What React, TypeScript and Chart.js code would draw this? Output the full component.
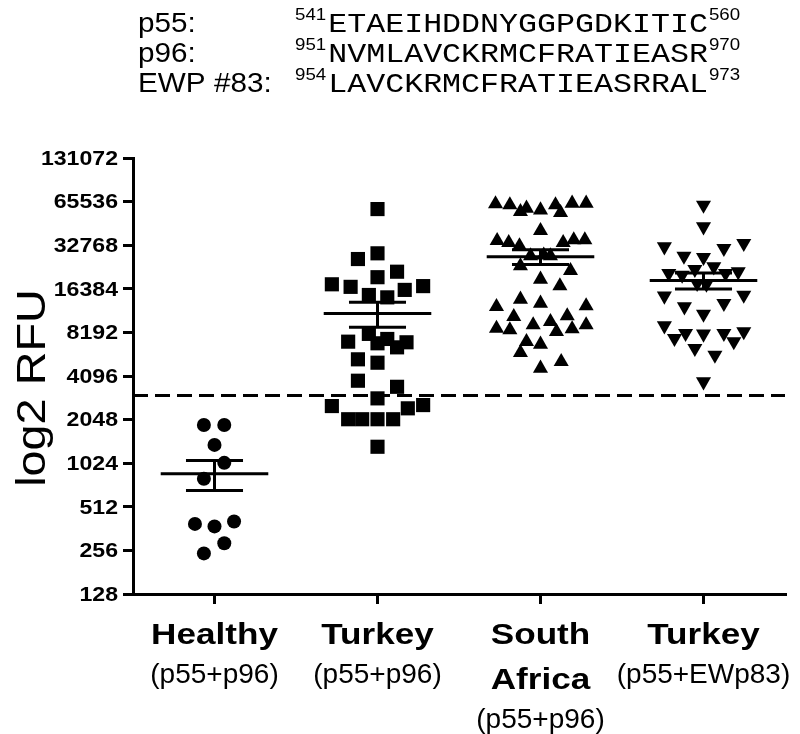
import React, { useEffect, useRef } from "react";
import { Chart, registerables } from "chart.js";

Chart.register(...registerables);

// ---------- data ----------
const categories: string[][] = [["Healthy"], ["Turkey"], ["South", "Africa"], ["Turkey"]];
const subLabels: string[] = ["(p55+p96)", "(p55+p96)", "(p55+p96)", "(p55+EWp83)"];
const yTicks: number[] = [128, 256, 512, 1024, 2048, 4096, 8192, 16384, 32768, 65536, 131072];
const cutoff = 3000;

const healthyValues: number[] = [1880, 1880, 1370, 1030, 800, 390, 375, 405, 287, 244];
const healthyJitter: number[] = [-0.065, 0.06, 0, 0.06, -0.065, -0.12, 0, 0.12, 0.06, -0.065];

const turkeyValues: number[] = [
  58200, 28800, 26300, 21500, 19700, 17600, 16900, 17100, 16100, 14850, 14300,
  8000, 7070, 7380, 6890, 7000, 6460, 5340, 5060, 3800, 3450, 2870,
  2540, 2580, 2450, 2060, 2060, 2060, 2060, 1330,
];
const turkeyJitter: number[] = [
  0, 0, -0.12, 0.12, 0, -0.28, -0.165, 0.28, 0.167, -0.053, 0.06,
  -0.053, -0.18, 0.06, 0, 0.178, 0.12, -0.12, 0, -0.12, 0.12, 0,
  -0.28, 0.28, 0.186, -0.18, -0.094, 0, 0.096, 0,
];

const southAfricaValues: number[] = [
  63100, 62100, 55800, 58900, 57300, 62100, 54900, 63800, 63800,
  41300, 35200, 34100, 32400, 34100, 35600, 35600,
  27600, 28000, 27600, 23550, 21850, 19060, 17130,
  13860, 13010, 12330, 12470, 10510, 10630, 9710,
  8740, 8510, 9220, 8290, 8650, 9220, 7070, 6780, 5930, 5140, 4630,
];
const southAfricaJitter: number[] = [
  -0.276, -0.188, -0.123, -0.086, 0, 0.092, 0.123, 0.194, 0.28,
  0, -0.266, -0.195, -0.129, 0.139, 0.204, 0.272,
  -0.061, 0.02, 0.061, -0.123, 0.184, 0, 0.119,
  -0.123, 0, -0.27, 0.28, -0.164, 0.164, 0.061,
  -0.27, -0.188, -0.045, 0.098, 0.194, 0.28, -0.086, 0, -0.123, 0.127, 0,
];

const turkeyEwpValues: number[] = [
  62100, 43970, 32000, 33800, 31200, 27600, 27000,
  20970, 20400, 22340, 23280, 20970, 21500, 17880, 17680,
  14620, 14850, 12330, 13010, 10970,
  9110, 7460, 8070, 7990, 8070, 8290, 7070, 6360, 5720, 3740,
];
const turkeyEwpJitter: number[] = [
  0, 0, -0.24, 0.247, 0.125, -0.12, 0,
  -0.213, -0.131, -0.053, 0.063, 0.135, 0.213, -0.039, 0.018,
  -0.24, 0.247, -0.117, 0.125, 0,
  -0.24, -0.178, -0.11, 0, 0.125, 0.247, 0.186, -0.053, 0.07, 0,
];

const peptideNames: string[] = ["p55:", "p96:", "EWP #83:"];
const peptideStarts: string[] = ["541", "951", "954"];
const peptideSequences: string[] = [
  "ETAEIHDDNYGGPGDKITIC",
  "NVMLAVCKRMCFRATIEASR",
  "LAVCKRMCFRATIEASRRAL",
];
const peptideEnds: string[] = ["560", "970", "973"];

// ---------- helpers ----------
function meanSem(vals: number[]): [number, number] {
  const n = vals.length;
  const m = vals.reduce((a, b) => a + b, 0) / n;
  const sd = Math.sqrt(vals.reduce((a, v) => a + (v - m) * (v - m), 0) / (n - 1));
  return [m, sd / Math.sqrt(n)];
}

function stretchText(
  ctx: CanvasRenderingContext2D,
  text: string,
  x: number,
  y: number,
  font: string,
  sx: number,
  align: "left" | "center" | "right"
): number {
  ctx.save();
  ctx.font = font;
  const w = ctx.measureText(text).width * sx;
  let left = x;
  if (align === "center") left = x - w / 2;
  else if (align === "right") left = x - w;
  ctx.translate(left, y);
  ctx.scale(sx, 1);
  ctx.textAlign = "left";
  ctx.fillText(text, 0, 0);
  ctx.restore();
  return w;
}

const SANS = "'Liberation Sans', Arial, Helvetica, sans-serif";
const MONO = "'Liberation Mono', 'Courier New', monospace";

const textPlugin = {
  id: "figureText",
  afterDraw(chart: any) {
    const ctx: CanvasRenderingContext2D = chart.ctx;
    const xs = chart.scales.x;
    const ys = chart.scales.y;
    const area = chart.chartArea;
    ctx.save();
    ctx.fillStyle = "#000";

    // y tick labels
    ctx.textBaseline = "middle";
    ys.ticks.forEach((t: any) => {
      const py = ys.getPixelForValue(t.value);
      stretchText(ctx, String(t.value), area.left - 15, py + 1, `bold 21px ${SANS}`, 1.1, "right");
    });

    // y axis title
    ctx.save();
    ctx.translate(34, (area.top + area.bottom) / 2 + 12);
    ctx.rotate(-Math.PI / 2);
    ctx.textBaseline = "middle";
    stretchText(ctx, "log2 RFU", 0, 0, `40px ${SANS}`, 1.17, "center");
    ctx.restore();

    // x category labels
    ctx.textBaseline = "alphabetic";
    categories.forEach((lines, i) => {
      const px = xs.getPixelForValue(i);
      lines.forEach((ln, k) => {
        stretchText(ctx, ln, px, 644 + k * 45, `bold 30px ${SANS}`, 1.17, "center");
      });
      stretchText(ctx, subLabels[i], px, 644 + (lines.length - 1) * 45 + 39, `28px ${SANS}`, 1.0, "center");
    });

    // peptide header
    const baselines = [32, 62, 92];
    peptideNames.forEach((nm, r) => {
      const b = baselines[r];
      stretchText(ctx, nm, 138, b, `27px ${SANS}`, 1.1, "left");
      const sw = stretchText(ctx, peptideStarts[r], 295, b - 12, `17px ${SANS}`, 1.1, "left");
      const qw = stretchText(ctx, peptideSequences[r], 295 + sw + 2, b, `28px ${MONO}`, 1.13, "left");
      stretchText(ctx, peptideEnds[r], 295 + sw + 2 + qw + 1, b - 12, `17px ${SANS}`, 1.1, "left");
    });

    ctx.restore();
  },
};

const groups = [
  { values: healthyValues, jitter: healthyJitter, style: "circle", radius: 7, rotation: 0 },
  { values: turkeyValues, jitter: turkeyJitter, style: "rect", radius: 10, rotation: 0 },
  { values: southAfricaValues, jitter: southAfricaJitter, style: "triangle", radius: 8.7, rotation: 0 },
  { values: turkeyEwpValues, jitter: turkeyEwpJitter, style: "triangle", radius: 8.7, rotation: 180 },
];

export default function App() {
  const canvasRef = useRef<HTMLCanvasElement | null>(null);

  useEffect(() => {
    if (!canvasRef.current) return;

    const datasets: any[] = [];
    groups.forEach((g, i) => {
      datasets.push({
        type: "scatter",
        data: g.values.map((v, j) => ({ x: i + g.jitter[j], y: v })),
        pointStyle: g.style,
        pointRadius: g.radius,
        pointRotation: g.rotation,
        pointBackgroundColor: "#000",
        pointBorderColor: "#000",
        pointBorderWidth: 0,
        order: 2,
      });
    });
    groups.forEach((g, i) => {
      const [m, s] = meanSem(g.values);
      datasets.push({
        type: "line",
        data: [
          { x: i - 0.33, y: m }, { x: i + 0.33, y: m }, { x: i, y: null },
          { x: i - 0.175, y: m + s }, { x: i + 0.175, y: m + s }, { x: i, y: null },
          { x: i - 0.175, y: m - s }, { x: i + 0.175, y: m - s }, { x: i, y: null },
          { x: i, y: m - s }, { x: i, y: m + s },
        ],
        borderColor: "#000",
        borderWidth: 3,
        pointRadius: 0,
        spanGaps: false,
        fill: false,
        order: 1,
      });
    });
    datasets.push({
      type: "line",
      data: [{ x: -0.5, y: cutoff }, { x: 3.5, y: cutoff }],
      borderColor: "#000",
      borderWidth: 3,
      borderDash: [15, 7],
      pointRadius: 0,
      fill: false,
      order: 1,
    });

    const chart = new Chart(canvasRef.current, {
      type: "scatter",
      data: { datasets },
      options: {
        animation: false,
        responsive: false,
        events: [],
        layout: { padding: { top: 158, right: 15, left: 0, bottom: 0 } },
        plugins: { legend: { display: false }, tooltip: { enabled: false } },
        scales: {
          x: {
            type: "linear",
            min: -0.5,
            max: 3.5,
            afterBuildTicks: (s: any) => {
              s.ticks = categories.map((_, i) => ({ value: i }));
            },
            afterFit: (s: any) => {
              s.height = 140;
            },
            ticks: { display: false },
            grid: { drawOnChartArea: false, drawTicks: true, tickLength: 10, lineWidth: 3, color: "#000" },
            border: { display: true, width: 3, color: "#000" },
          },
          y: {
            type: "logarithmic",
            min: 128,
            max: 131072,
            afterBuildTicks: (s: any) => {
              s.ticks = yTicks.map((v) => ({ value: v }));
            },
            afterFit: (s: any) => {
              s.width = 133;
            },
            ticks: { display: false },
            grid: { drawOnChartArea: false, drawTicks: true, tickLength: 10, lineWidth: 3, color: "#000" },
            border: { display: true, width: 3, color: "#000" },
          },
        },
      } as any,
      plugins: [textPlugin],
    });

    return () => chart.destroy();
  }, []);

  return (
    <div style={{ position: "absolute", left: 0, top: 0, width: 800, height: 734, background: "#fff" }}>
      <canvas ref={canvasRef} width={800} height={734} style={{ display: "block" }} />
    </div>
  );
}
